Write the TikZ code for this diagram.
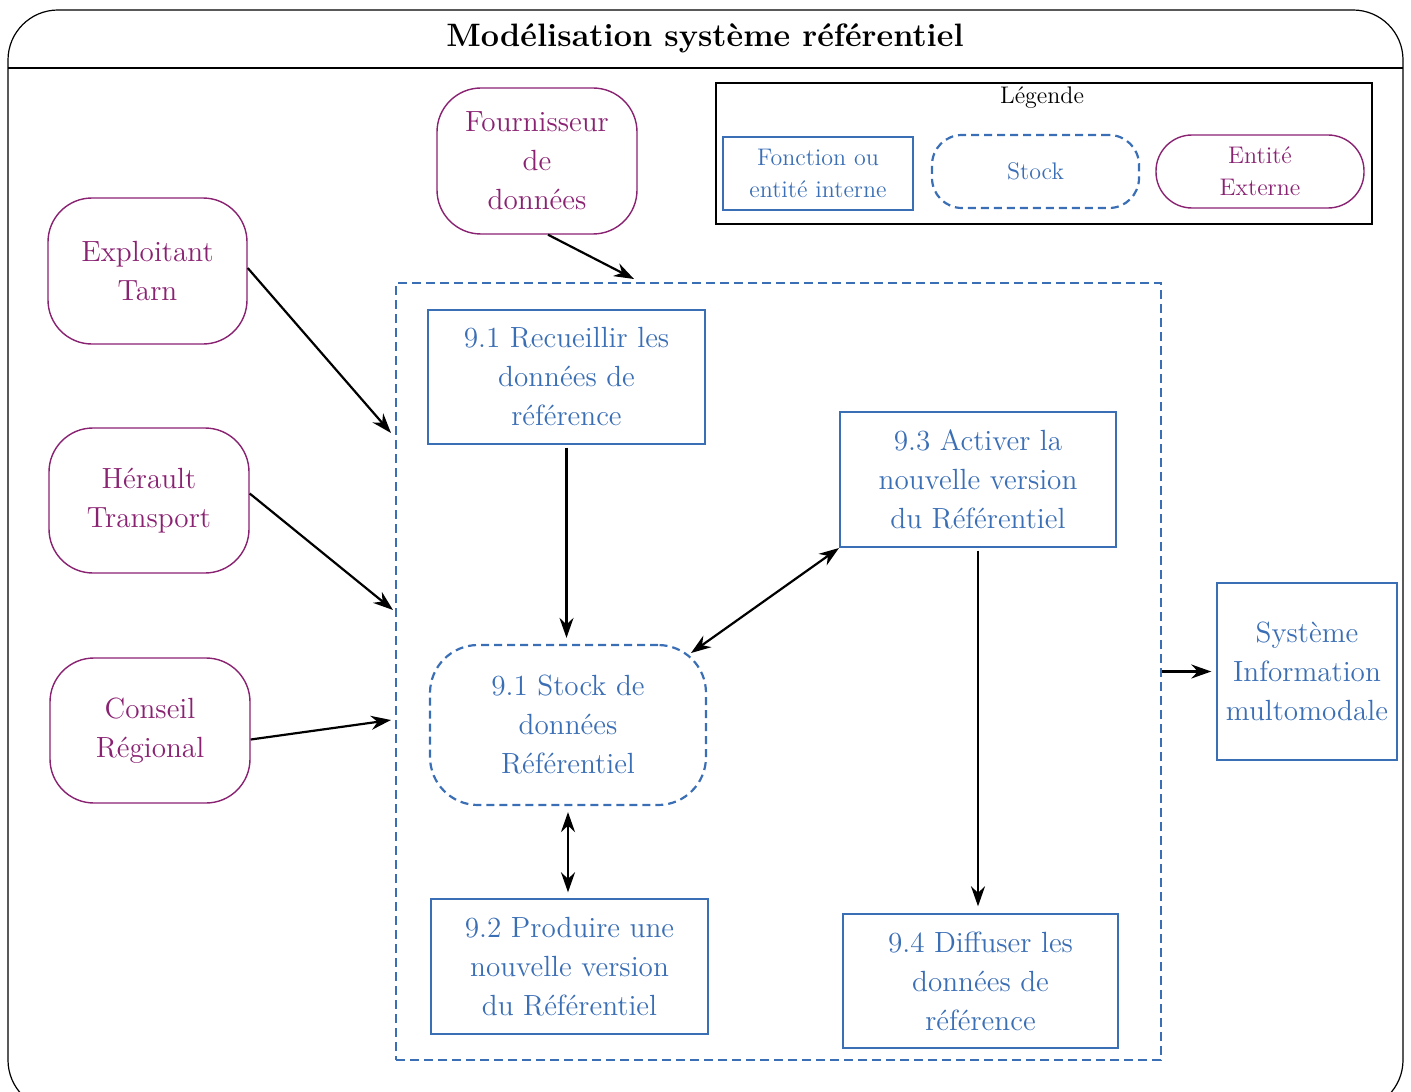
\documentclass[tikz,border=0pt]{standalone}
\usepackage{fontspec}
\usetikzlibrary{arrows.meta}
\definecolor{fblue}{HTML}{3A6EB5}
\definecolor{fpurple}{HTML}{8A2272}
\tikzset{
  ext/.style={draw=fpurple, text=fpurple, line width=0.7pt, rounded corners=22pt, align=center,
    font=\fontsize{14.6}{19.5}\selectfont, inner sep=0pt},
  func/.style={draw=fblue, text=fblue, line width=0.7pt, align=center,
    font=\fontsize{14.6}{19.5}\selectfont, inner sep=0pt},
  stockbox/.style={draw=fblue, text=fblue, line width=1.1pt, dash pattern=on 4pt off 2.5pt,
    rounded corners=24pt, align=center, font=\fontsize{14.6}{19.5}\selectfont, inner sep=0pt},
  legtxt/.style={font=\fontsize{12}{16}\selectfont},
  arr/.style={-{Stealth[length=10pt,width=7pt]}, line width=1.1pt},
  darr/.style={{Stealth[length=10pt,width=7pt]}-{Stealth[length=10pt,width=7pt]}, line width=1.1pt},
}
\begin{document}
\begin{tikzpicture}[x=0.5pt,y=-0.5pt]
\useasboundingbox (0,0) rectangle (1411,1091);
\begin{scope}
\clip (0,0) rectangle (1411,1091);
\draw[line width=0.6pt, rounded corners=25pt] (8,10) rectangle (1403,1110);
\end{scope}
\draw[line width=0.6pt] (8,68) -- (1403,68);
\node[font=\bfseries\fontsize{16.2}{20}\selectfont] (title) at (705,38) {Modélisation système référentiel};

% legend
\node[draw, line width=0.6pt, minimum width=328pt, minimum height=70.5pt, inner sep=0pt] (leg) at (1044,153.5) {};
\node[font=\fontsize{12}{14}\selectfont] (legt) at (1042,98) {Légende};
\node[func, legtxt, minimum width=95pt, minimum height=36.5pt] (lf) at (818,173.5) {Fonction ou\\entité interne};
\node[stockbox, legtxt, rounded corners=15pt, minimum width=103.5pt, minimum height=36.5pt] (ls) at (1035.5,171.5) {Stock};
\node[ext, legtxt, rounded corners=18pt, minimum width=104pt, minimum height=36.5pt] (le) at (1260,171.5) {Entité\\Externe};

% external entities
\node[ext, minimum width=100pt, minimum height=73pt] (fourn) at (537,161) {Fournisseur\\de\\données};
\node[ext, minimum width=99.5pt, minimum height=73pt] (expl) at (147.5,271) {Exploitant\\Tarn};
\node[ext, minimum width=100pt, minimum height=72.5pt] (hera) at (149,500.5) {Hérault\\Transport};
\node[ext, minimum width=100pt, minimum height=72.5pt] (cons) at (150,730.5) {Conseil\\Régional};

% big system box
\node[draw=fblue, line width=1.2pt, dash pattern=on 4.5pt off 2.5pt, minimum width=382.5pt, minimum height=388.5pt, inner sep=0pt] (big) at (778.5,671.5) {};

% internal functions
\node[func, minimum width=138.5pt, minimum height=67pt] (r91) at (566.5,377) {9.1 Recueillir les\\données de\\référence};
\node[func, minimum width=138pt, minimum height=67.5pt] (r93) at (978,479.5) {9.3 Activer la\\nouvelle version\\du Référentiel};
\node[stockbox, minimum width=138pt, minimum height=80pt] (stock) at (568,725) {9.1 Stock de\\données\\Référentiel};
\node[func, minimum width=138.5pt, minimum height=67.5pt] (r92) at (569.5,966.5) {9.2 Produire une\\nouvelle version\\du Référentiel};
\node[func, minimum width=137.5pt, minimum height=67pt] (r94) at (980.5,981) {9.4 Diffuser les\\données de\\référence};
\node[func, minimum width=90pt, minimum height=88.5pt] (sys) at (1307,671.5) {Système\\Information\\multomodale};

% free ends on the big box
\coordinate (inF) at (634,279);
\coordinate (inE) at (391,433);
\coordinate (inH) at (393,610);
\coordinate (inC) at (391,720);
\coordinate (s93) at (839,548);
\coordinate (sNE) at (691,653);

% connectors
\draw[arr] ([xshift=5.5pt]fourn.south) -- (inF);
\draw[arr] ([yshift=1.5pt]expl.east) -- (inE);
\draw[arr] ([yshift=3.5pt]hera.east) -- (inH);
\draw[arr] ([yshift=-4.5pt]cons.east) -- (inC);
\draw[arr, shorten <=1.5pt, shorten >=3pt] (r91.south) -- (r91.south |- stock.north);
\draw[darr] (s93) -- (sNE);
\draw[darr, shorten <=3pt, shorten >=3pt] (stock.south) -- (stock.south |- r92.north);
\draw[arr, shorten <=1.5pt, shorten >=3.5pt] (r93.south) -- (r93.south |- r94.north);
\draw[arr, shorten >=2.5pt] (big.east) -- (sys.west);
\end{tikzpicture}
\end{document}
